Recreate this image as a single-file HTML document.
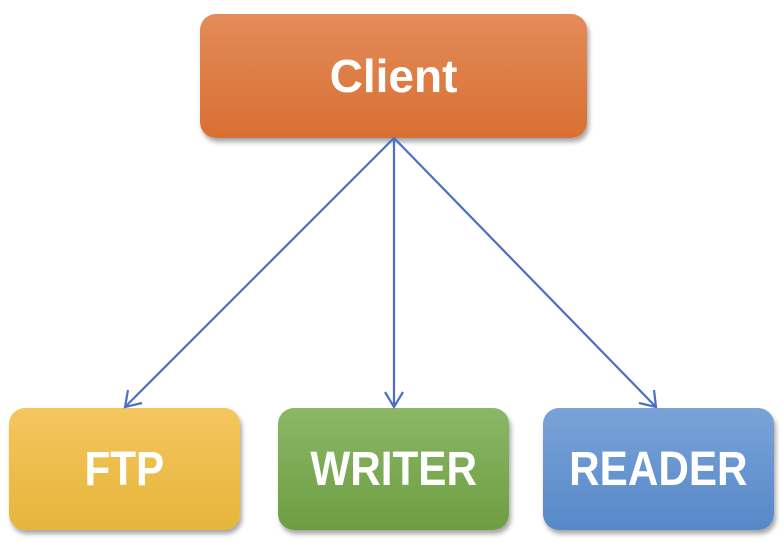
<!DOCTYPE html>
<html><head><style>
body{margin:0;width:784px;height:542px;background:#fff;position:relative;overflow:hidden;font-family:"Liberation Sans",sans-serif}
.b{position:absolute;border-radius:16px;color:#fff;font-weight:bold;display:flex;align-items:center;justify-content:center;box-shadow:2px 4px 5px rgba(0,0,0,0.35)}
.b span{display:inline-block;transform:scaleX(0.88)}
</style></head><body>
<div class="b" style="left:200px;top:14px;width:387px;height:124px;background:linear-gradient(#e38c5a,#d96f32);font-size:46px">Client</div>
<div class="b" style="left:9px;top:408px;width:231px;height:122px;background:linear-gradient(#f4c65e,#e6b53a);font-size:48px"><span>FTP</span></div>
<div class="b" style="left:278px;top:408px;width:231px;height:122px;background:linear-gradient(#8bb766,#6d9e42);font-size:48px"><span>WRITER</span></div>
<div class="b" style="left:543px;top:408px;width:231px;height:122px;background:linear-gradient(#7aa3d8,#5688c8);font-size:48px"><span>READER</span></div>
<svg width="784" height="542" style="position:absolute;left:0;top:0">
<g stroke="#4a6fc4" stroke-width="2.2" fill="none">
<line x1="394" y1="138" x2="125" y2="407"/>
<line x1="394" y1="138" x2="394" y2="407"/>
<line x1="394" y1="138" x2="656" y2="407"/>
<polyline points="128,390 125,407 142,403"/>
<polyline points="385,392 394,407 403,392"/>
<polyline points="639,403 656,407 654,390"/>
</g></svg>
</body></html>
